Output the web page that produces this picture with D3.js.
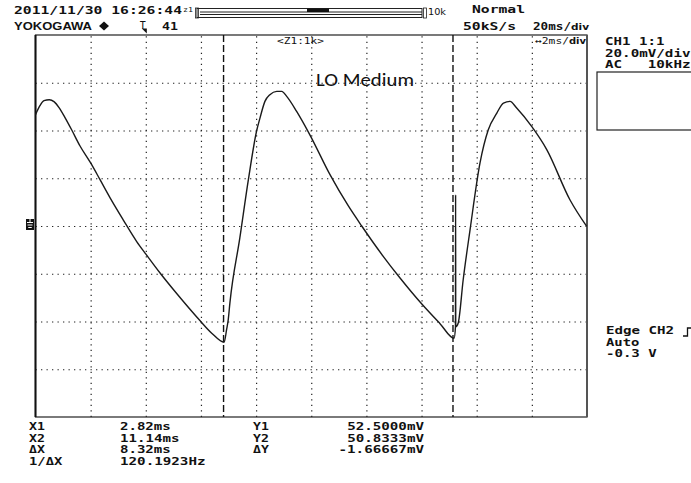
<!DOCTYPE html>
<html><head><meta charset="utf-8">
<script src="https://cdn.jsdelivr.net/npm/d3@7"></script>
<style>html,body{margin:0;padding:0;background:#fff;} svg{display:block;} text{white-space:pre;}</style>
</head><body>
<svg id="c" width="691" height="483"></svg>
<script>
// ---- data ----
const waveTime = [-4.00,-3.84,-3.69,-3.50,-3.33,-3.14,-2.93,-2.69,-2.39,-2.00,-1.66,-1.30,-0.82,-0.33,0.01,0.51,1.12,1.97,2.40,2.84,
  2.93,2.99,3.05,3.41,3.72,4.02,4.14,4.32,4.50,4.75,4.93,5.11,5.47,5.95,6.68,7.34,7.83,8.61,9.22,10.01,10.67,11.18,
  11.23,11.235,11.24,11.33,11.51,11.76,12.12,12.42,12.73,12.97,13.21,13.45,14.00,14.54,15.38,15.99];
const waveVolt = [46.6,50.4,52.5,52.9,52.1,49.5,45.4,40.3,33.6,26.4,19.4,11.9,2.6,-6.5,-11.9,-19.6,-28.3,-39.7,-45.0,-48.7,
  -43.4,-39.2,-32.2,-5.0,19.4,39.9,45.2,52.2,55.0,56.4,56.4,54.3,48.0,38.2,21.5,8.5,0.0,-12.7,-21.8,-32.7,-40.9,-47.0,
  -42.2,13.1,-42.2,-40.6,-22.5,-1.5,26.4,40.3,47.3,51.5,52.2,49.4,41.6,32.0,11.0,-0.2];
const timeTicks = [-2,0,2,4,6,8,10,12,14];      // ms, 2 ms/div
const voltTicks = [-60,-40,-20,0,20,40,60];      // mV, 20 mV/div
const cursorTimes = [2.82, 11.14];
const triggerTime = 0;
const measLabels = ["X1","X2","ΔX","1/ΔX"];
const measValues = ["2.82ms","11.14ms","8.32ms","120.1923Hz"];
const yLabels = ["Y1","Y2","ΔY"];
const yValues = ["52.5000mV","50.8333mV","-1.66667mV"];
const chLines = ["CH1 1:1","20.0mV/div","AC   10kHz"];
const trigLines = ["Edge CH2","Auto","-0.3 V"];
const titleText = "LO Medium";

// ---- layout ----
const svg = d3.select("#c");
const L = 35.5, R = 587, T = 35, B = 417;
const x = d3.scaleLinear().domain([-4,16]).range([L,R]);
const y = d3.scaleLinear().domain([-80,80]).range([B,T]);
const mono = "'DejaVu Sans Mono', 'Liberation Mono', monospace";
const ADV = 8.7;

svg.append("rect").attr("width",691).attr("height",483).attr("fill","#fff");

// grid via axes
const gx = svg.append("g").attr("transform",`translate(0,${B})`)
  .call(d3.axisBottom(x).tickValues(timeTicks).tickSize(-(B-T)).tickFormat(""));
const gy = svg.append("g").attr("transform",`translate(${L},0)`)
  .call(d3.axisLeft(y).tickValues(voltTicks).tickSize(-(R-L)).tickFormat(""));
[gx,gy].forEach(g=>{
  g.select(".domain").remove();
  g.selectAll(".tick line").attr("stroke","#222").attr("stroke-width",1.2).attr("stroke-dasharray","1.3,4.2");
});

// frame
svg.append("rect").attr("x",L).attr("y",T).attr("width",R-L).attr("height",B-T)
  .attr("fill","none").attr("stroke","#222").attr("stroke-width",1.2);
svg.append("line").attr("x1",L).attr("x2",L).attr("y1",T).attr("y2",B).attr("stroke","#111").attr("stroke-width",2);
svg.append("line").attr("x1",R).attr("x2",R).attr("y1",T).attr("y2",B).attr("stroke","#555").attr("stroke-width",2);

// cursors
svg.selectAll("line.cur").data(cursorTimes).enter().append("line").attr("class","cur")
  .attr("x1",d=>x(d)).attr("x2",d=>x(d)).attr("y1",T).attr("y2",B)
  .attr("stroke","#111").attr("stroke-width",1.4).attr("stroke-dasharray","7,3");

// waveform
const pts = waveTime.map((t,i)=>[t,waveVolt[i]]);
svg.append("path").datum(pts)
  .attr("d", d3.line().x(d=>x(d[0])).y(d=>y(d[1])).curve(d3.curveMonotoneX))
  .attr("fill","none").attr("stroke","#1a1a1a").attr("stroke-width",1.4).attr("stroke-linejoin","round");

// ground marker
const gy0 = y(0);
svg.append("rect").attr("x",26).attr("y",gy0-7).attr("width",8).attr("height",11).attr("fill","#111");
[ [-3.5,6],[-1,5],[1.5,3.5] ].forEach(([dy,w])=>{
  svg.append("line").attr("x1",30-w/2).attr("x2",30+w/2).attr("y1",gy0+dy).attr("y2",gy0+dy).attr("stroke","#fff").attr("stroke-width",1);
});
svg.append("line").attr("x1",30).attr("x2",30).attr("y1",gy0-7).attr("y2",gy0-3.5).attr("stroke","#fff").attr("stroke-width",1);

// text helper
function mtext(s,xx,yy,opts={}){
  const t = svg.append("text").attr("x",xx).attr("y",yy).text(s)
    .attr("font-family",opts.family||mono).attr("font-size",opts.size||9.8)
    .attr("font-weight",opts.weight||"bold").attr("fill",opts.fill||"#111");
  if(opts.anchor) t.attr("text-anchor",opts.anchor);
  const len = opts.len || (opts.family||opts.size ? null : s.length*ADV - 1.5);
  if(len) t.attr("textLength",len).attr("lengthAdjust","spacingAndGlyphs");
  return t;
}
mtext("2011/11/30 16:26:44",14,14,{len:168});
mtext("z1",183,12,{size:7,weight:"normal",len:10});
// zoom bar
svg.append("rect").attr("x",197).attr("y",8.5).attr("width",225).attr("height",9).attr("fill","none").attr("stroke","#222").attr("stroke-width",1);
svg.append("line").attr("x1",200).attr("x2",422).attr("y1",12).attr("y2",12).attr("stroke","#222").attr("stroke-width",1);
svg.append("line").attr("x1",200).attr("x2",422).attr("y1",14.5).attr("y2",14.5).attr("stroke","#222").attr("stroke-width",1);
svg.append("rect").attr("x",307).attr("y",8.5).attr("width",22).attr("height",3.5).attr("fill","#111");
svg.append("rect").attr("x",195.5).attr("y",8).attr("width",3).attr("height",10).attr("fill","none").attr("stroke","#222").attr("stroke-width",0.8);
svg.append("rect").attr("x",423.5).attr("y",8).attr("width",3).attr("height",10).attr("fill","none").attr("stroke","#222").attr("stroke-width",0.8);
mtext("10k",428,15,{size:8,weight:"normal",len:18,family:"'DejaVu Sans', sans-serif"});

mtext("YOKOGAWA",14,29.5,{family:"'Liberation Sans', Arial, sans-serif",size:10.5,weight:"bold",len:78});
svg.append("path").attr("d","M104,21.5 L109,26 L104,30.5 L99,26 Z").attr("fill","#111");
// trigger marker
const tx = x(triggerTime);
mtext("T",tx-6,29,{size:10,weight:"normal"});
svg.append("path").attr("d",`M${tx-4},28.5 L${tx+1},28.5 L${tx+1},33.5 Z`).attr("fill","#111");
mtext("41",162,29.5,{len:16});

mtext("Normal",472,13,{len:53});
mtext("50kS/s",463,30,{len:53});
mtext("20ms/",533,30,{len:38});
mtext("div",571,30,{size:8.5,len:18,family:"'DejaVu Sans Condensed','DejaVu Sans', sans-serif"});
mtext("<Z1:1k>",277,44,{size:8,weight:"normal",len:47});
mtext("↔2ms/",535,44,{size:9,weight:"normal",len:34});
mtext("div",569,44,{size:8,len:17,family:"'DejaVu Sans Condensed','DejaVu Sans', sans-serif"});

// title
svg.append("text").attr("x",316).attr("y",86).text(titleText)
  .attr("font-family","Carlito, Lato, 'Open Sans', sans-serif").attr("font-size",19)
  .attr("fill","#111").attr("textLength",98).attr("lengthAdjust","spacingAndGlyphs");

// right panel
chLines.forEach((s,i)=>mtext(s,605,45+i*11.6));
svg.append("rect").attr("x",597).attr("y",72).attr("width",110).attr("height",58).attr("fill","none").attr("stroke","#222").attr("stroke-width",1.2);
trigLines.forEach((s,i)=>mtext(s,606,334+i*11.6));
svg.append("path").attr("d","M683,336 L687.5,336 L687.5,328 L693,328").attr("fill","none").attr("stroke","#111").attr("stroke-width",1.3);

// measurements
measLabels.forEach((s,i)=>mtext(s,29,430+i*11.7));
measValues.forEach((s,i)=>mtext(s,120,430+i*11.7));
yLabels.forEach((s,i)=>mtext(s,253,430+i*11.7));
yValues.forEach((s,i)=>mtext(s,424,430+i*11.7,{anchor:"end"}));
</script>
</body></html>
